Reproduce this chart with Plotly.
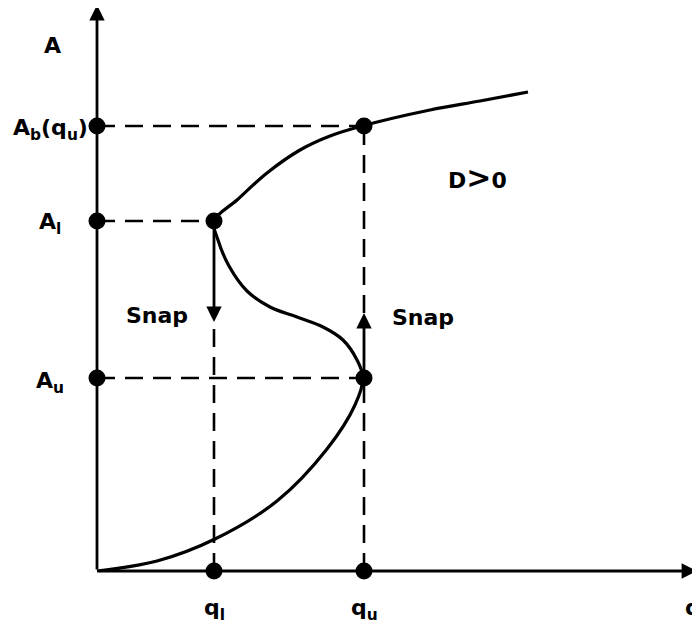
import plotly.graph_objects as go

# key values (diagram units, origin at 0,0)
Q_L, Q_U = 1.17, 2.67
A_U, A_L, A_B = 1.93, 3.50, 4.45
Q_END, A_END = 6.00, 5.66          # axis arrow tips
SNAP_DOWN_END = 2.49               # tip of the snap arrow below A_l
SNAP_UP_END = 2.58                 # tip of the snap arrow above A_u

# the S-shaped response curve
q_curve = [0, 0.60, 1.18, 1.80, 2.30, 2.58, 2.66,
           2.60, 2.46, 2.26, 2.00, 1.73, 1.50, 1.32, 1.21, 1.17,
           1.40, 1.70, 2.03, 2.33, 2.65, 3.33, 3.83, 4.31]
A_curve = [0, 0.10, 0.32, 0.70, 1.22, 1.66, 1.93,
           2.11, 2.31, 2.44, 2.54, 2.64, 2.80, 3.05, 3.31, 3.50,
           3.71, 3.98, 4.21, 4.35, 4.45, 4.61, 4.70, 4.79]

dot_q = [0, Q_U, 0, Q_L, 0, Q_U, Q_L, Q_U]
dot_A = [A_B, A_B, A_L, A_L, A_U, A_U, 0, 0]

fig = go.Figure()

dash = dict(color="black", width=2.6, dash="18px,10px")
# horizontal guides
for a, q in [(A_B, Q_U), (A_L, Q_L), (A_U, Q_U)]:
    fig.add_trace(go.Scatter(x=[0, q], y=[a, a], mode="lines", line=dash, hoverinfo="none"))
# vertical guides
fig.add_trace(go.Scatter(x=[Q_L, Q_L], y=[0, SNAP_DOWN_END], mode="lines", line=dash, hoverinfo="none"))
fig.add_trace(go.Scatter(x=[Q_U, Q_U], y=[0, A_U], mode="lines", line=dash, hoverinfo="none"))
fig.add_trace(go.Scatter(x=[Q_U, Q_U], y=[SNAP_UP_END, A_B], mode="lines", line=dash, hoverinfo="none"))

fig.add_trace(go.Scatter(x=q_curve, y=A_curve, mode="lines",
                         line=dict(color="black", width=3.2, shape="spline", smoothing=1.0),
                         hoverinfo="none"))

fig.add_trace(go.Scatter(x=dot_q, y=dot_A, mode="markers",
                         marker=dict(color="black", size=17), hoverinfo="none"))

arrows = [
    # axes
    (0, 0, Q_END, 0),
    (0, 0, 0, A_END),
    # snaps
    (Q_L, A_L, Q_L, SNAP_DOWN_END),
    (Q_U, A_U, Q_U, SNAP_UP_END),
]
for x0, y0, x1, y1 in arrows:
    fig.add_annotation(x=x1, y=y1, ax=x0, ay=y0, xref="x", yref="y", axref="x", ayref="y",
                       showarrow=True, arrowhead=2, arrowsize=1.1, arrowwidth=2.8,
                       arrowcolor="black", text="")

font = dict(family="DejaVu Sans", size=22, color="black", weight="bold")
labels = [
    ("A", -0.45, 5.26),
    ("A<sub>b</sub>(q<sub>u</sub>)", -0.47, 4.42),
    ("A<sub>l</sub>", -0.47, 3.48),
    ("A<sub>u</sub>", -0.47, 1.89),
    ("q<sub>l</sub>", Q_L, -0.38),
    ("q<sub>u</sub>", Q_U, -0.38),
    ("q", 5.96, -0.36),
    ("Snap", 0.60, 2.56),
    ("Snap", 3.26, 2.54),
    ("D<span style='font-size:30px'>&gt;</span>0", 3.80, 3.94),
]
for t, x, y in labels:
    fig.add_annotation(x=x, y=y, xref="x", yref="y", text=t, showarrow=False, font=font)

# ranges offset by the page's 8px body margin so the drawing lands where the reference has it
fig.update_layout(
    width=700, height=624,
    margin=dict(l=0, r=0, t=0, b=0),
    paper_bgcolor="white", plot_bgcolor="white",
    showlegend=False,
    xaxis=dict(range=[-0.89, 6.11], visible=False, fixedrange=True),
    yaxis=dict(range=[-0.61, 5.63], visible=False, fixedrange=True),
)
fig.write_html("out.html")
